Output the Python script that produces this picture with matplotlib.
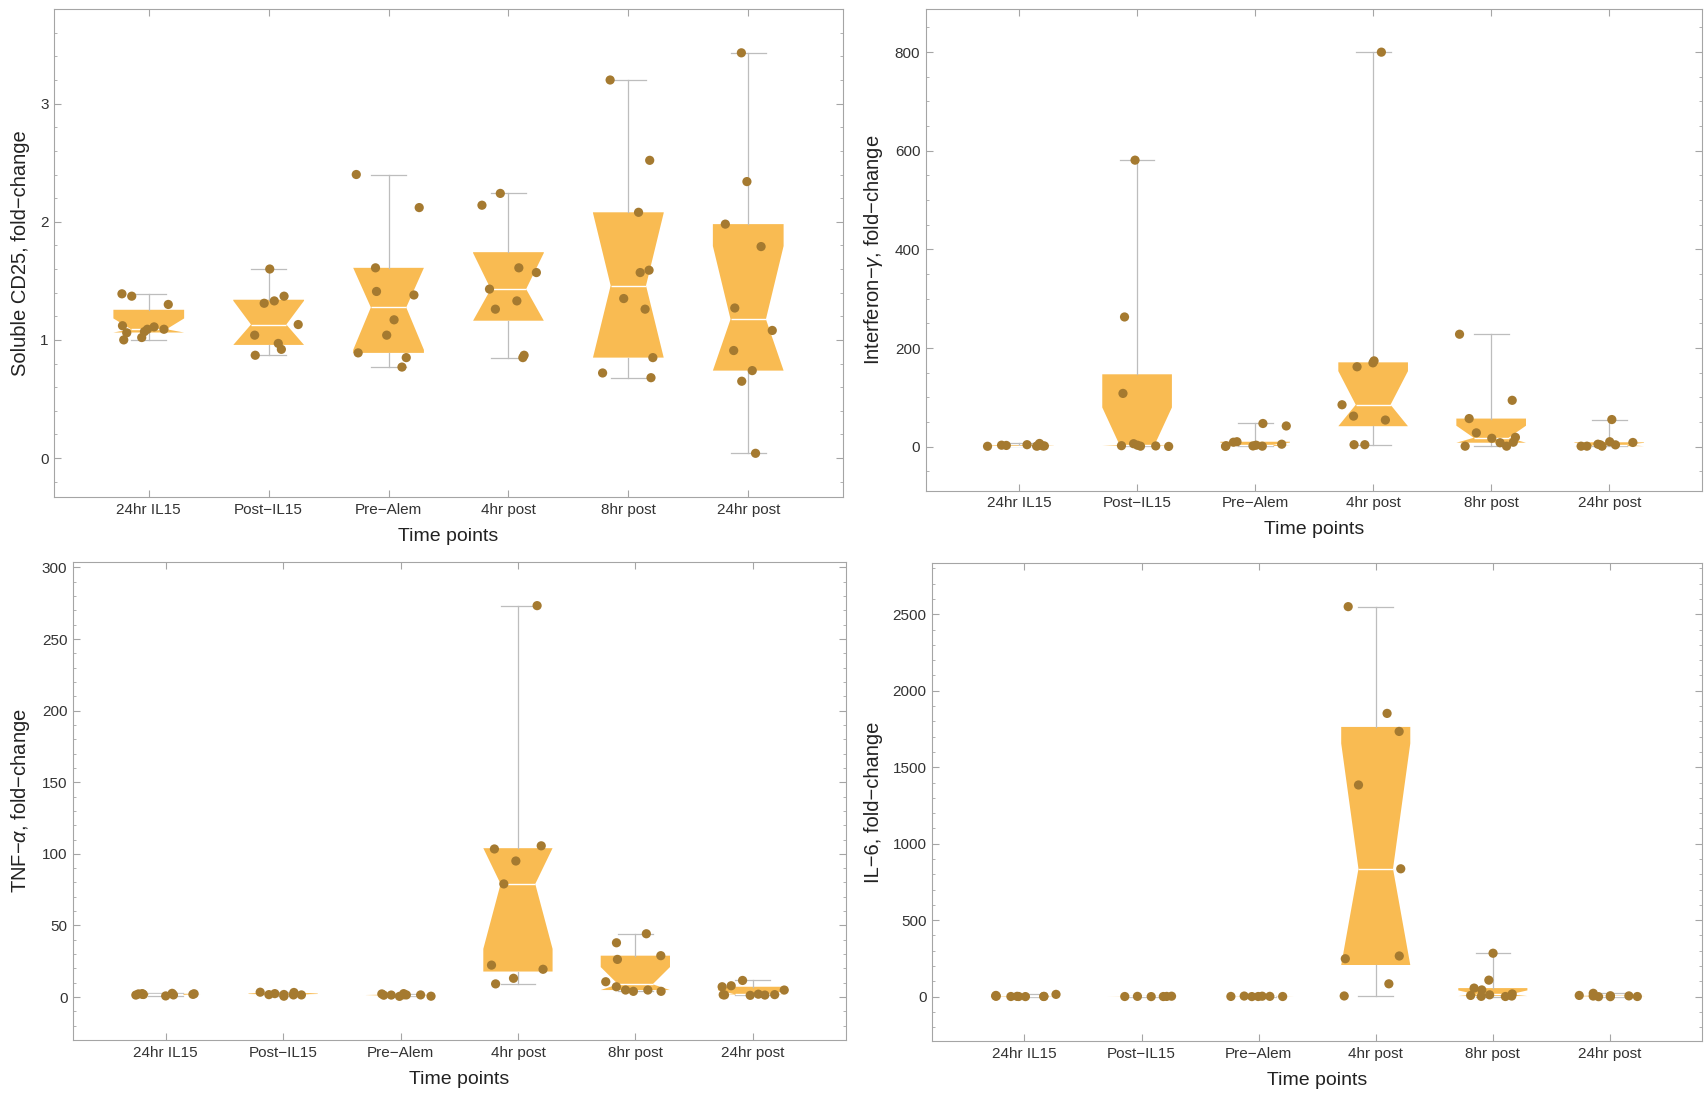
import numpy as np
import matplotlib
matplotlib.use("Agg")
import matplotlib.pyplot as plt
from matplotlib.ticker import MultipleLocator, AutoMinorLocator, NullLocator

plt.rcParams['font.family'] = ['Liberation Sans', 'DejaVu Sans']
plt.rcParams['mathtext.fontset'] = 'custom'
plt.rcParams['mathtext.rm'] = 'Liberation Sans'
plt.rcParams['mathtext.it'] = 'Liberation Sans:italic'

timepoints = ['24hr IL15', 'Post\u2212IL15', 'Pre\u2212Alem', '4hr post', '8hr post', '24hr post']

# fold-change values, one list per time point
cd25 = [
    [1.39, 1.37, 1.30, 1.11, 1.12, 1.07, 1.09, 1.06, 1.09, 1.00, 1.02],
    [1.60, 1.31, 1.33, 1.37, 1.13, 1.04, 0.97, 0.92, 0.87],
    [2.40, 2.12, 1.61, 1.41, 1.38, 1.17, 1.04, 0.85, 0.89, 0.77],
    [2.24, 2.14, 1.61, 1.57, 1.43, 1.33, 1.26, 0.87, 0.85],
    [3.20, 2.52, 2.08, 1.57, 1.59, 1.35, 1.26, 0.85, 0.72, 0.68],
    [3.43, 2.34, 1.98, 1.79, 1.27, 1.08, 0.91, 0.74, 0.65, 0.04],
]
ifng = [
    [4.0, 1.5, 1.0, 3.0, 2.5, 1.5, 0.8, 6.5, 2.0],
    [581, 263, 108, 2.0, 6.0, 3.0, 1.0, 0.5, 1.5],
    [47, 42, 10, 9, 1, 2, 0.5, 3, 1.5, 5],
    [800, 174, 170, 162, 85, 62, 54, 4, 4],
    [228, 94, 57, 28, 19, 17, 9, 8, 1, 1],
    [55, 10, 8.5, 3.7, 3.7, 1, 1, 5, 1],
]
tnfa = [
    [2.0, 0.8, 2.6, 1.4, 1.8, 1.9, 2.2, 2.4, 2.3, 1.5],
    [2.4, 0.6, 1.5, 1.7, 3.4, 1.5, 3.2, 1.8],
    [1.5, 2.4, 0.6, 2.2, 1.6, 0.5, 1.4, 1.5, 1.3],
    [273.3, 105.6, 103.4, 95.0, 79.0, 22.3, 19.4, 13.1, 9.2],
    [44.2, 37.9, 28.9, 26.3, 10.7, 7.2, 4.9, 4.0, 4.0, 4.9],
    [11.6, 7.2, 7.9, 4.9, 1.2, 1.4, 1.5, 1.6, 1.7, 2.0],
]
il6 = [
    [1, 2, 0.5, 1, 3, 2, 1, 4, 8, 15],
    [0.5, 1, 2, 3, 1.5, 0.8],
    [0.5, 1, 2, 1.5, 3, 4, 1],
    [2550, 1852, 1734, 1384, 836, 266, 248, 84, 4.5],
    [284, 108, 56, 44, 18, 2, 8, 1, 12, 4],
    [4, 0, 5, 6, 0, 22, 8, 1],
]

BOX = '#F9BB52'
DOT = '#A57A30'
WHISK = '#BDBDBD'
FRAME = '#A5A5A5'


def quartile(v, q):
    # linear interpolation at 1-based position n*q + 1/2
    v = np.sort(np.asarray(v, float))
    n = len(v)
    p = min(max(n * q + 0.5, 1), n)
    lo = int(np.floor(p))
    hi = min(lo + 1, n)
    return v[lo - 1] + (p - lo) * (v[hi - 1] - v[lo - 1])


def box_stats(v):
    q1, med, q3 = (quartile(v, q) for q in (0.25, 0.5, 0.75))
    half = 1.58 * (q3 - q1) / np.sqrt(len(v))
    # notch kept inside the box
    return dict(med=med, q1=q1, q3=q3, whislo=min(v), whishi=max(v),
                cilo=max(med - half, q1), cihi=min(med + half, q3), fliers=[])


def panel(ax, groups, ylabel, ylim, major, nminor, seed):
    pos = np.arange(1, len(groups) + 1)
    ax.bxp([box_stats(g) for g in groups], positions=pos, widths=0.59,
           shownotches=True, patch_artist=True, showfliers=False,
           boxprops=dict(facecolor=BOX, edgecolor='none', linewidth=0),
           medianprops=dict(color='white', linewidth=1.0),
           whiskerprops=dict(color=WHISK, linewidth=0.9),
           capprops=dict(color=WHISK, linewidth=0.9), zorder=2)
    rng = np.random.default_rng(seed)
    for p, g in zip(pos, groups):
        x = p + rng.uniform(-0.27, 0.27, len(g))
        ax.scatter(x, g, s=44, color=DOT, edgecolors='none', zorder=3)

    ax.set_xlim(0.21, 6.79)
    ax.set_ylim(*ylim)
    ax.set_xticks(pos, timepoints)
    ax.xaxis.set_minor_locator(NullLocator())
    ax.yaxis.set_major_locator(MultipleLocator(major))
    ax.yaxis.set_minor_locator(AutoMinorLocator(nminor))
    for sp in ax.spines.values():
        sp.set_color(FRAME)
        sp.set_linewidth(0.8)
    ax.tick_params(which='both', direction='in', top=True, right=True,
                   colors=FRAME, labelcolor='#333333', labelsize=11, pad=4)
    ax.tick_params(which='major', length=5, width=0.8)
    ax.tick_params(which='minor', length=2.5, width=0.6)
    ax.set_xlabel('Time points', fontsize=14, color='#222222', labelpad=8)
    ax.set_ylabel(ylabel, fontsize=14.5, color='#222222', labelpad=7)


fig = plt.figure(figsize=(17.05, 10.95), dpi=100)
ax1 = fig.add_axes([0.0317, 0.546, 0.4627, 0.446])
ax2 = fig.add_axes([0.543, 0.552, 0.4555, 0.440])
ax3 = fig.add_axes([0.0428, 0.0502, 0.4531, 0.4366])
ax4 = fig.add_axes([0.5466, 0.0493, 0.4519, 0.4365])

panel(ax1, cd25, 'Soluble CD25, fold\u2212change', (-0.331, 3.803), 1, 5, 3)
panel(ax2, ifng, 'Interferon\u2212$\\gamma$, fold\u2212change', (-89, 888), 200, 4, 7)
panel(ax3, tnfa, 'TNF\u2212$\\alpha$, fold\u2212change', (-30, 303.8), 50, 5, 11)
panel(ax4, il6, 'IL\u22126, fold\u2212change', (-290, 2835), 500, 5, 5)

fig.savefig('out.png', dpi=100)
